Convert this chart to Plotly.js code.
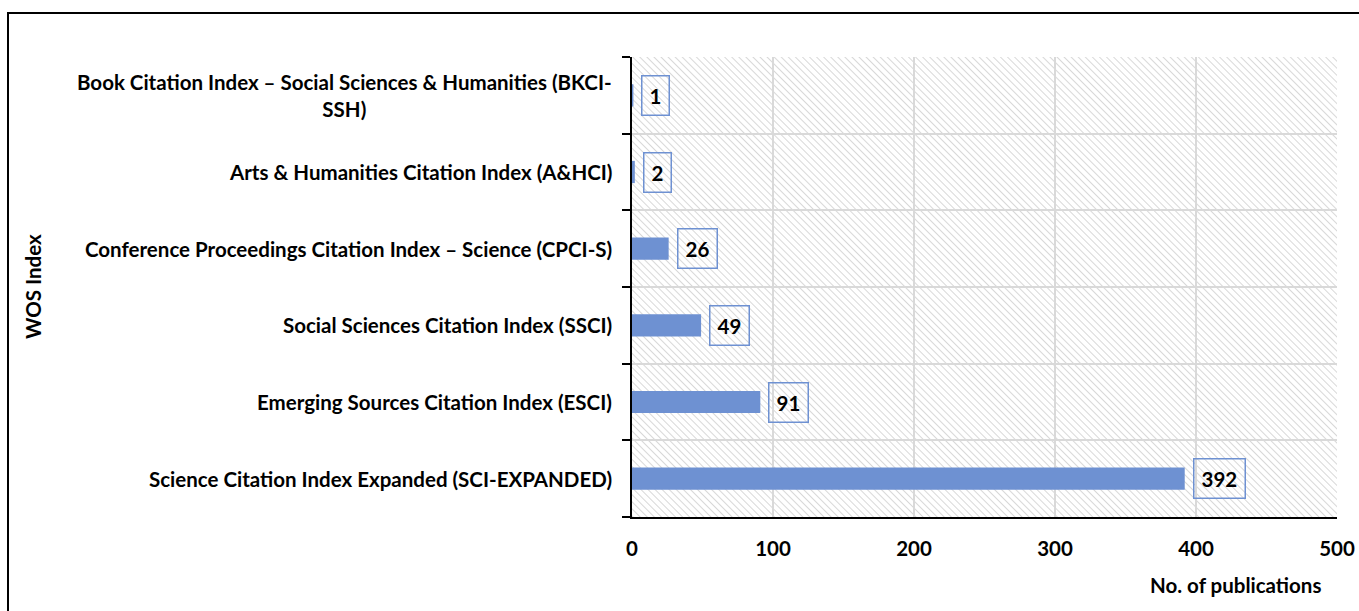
<!DOCTYPE html>
<html>
<head>
<meta charset="utf-8">
<script src="https://cdn.plot.ly/plotly-3.0.1.min.js"></script>
<style>
  html, body { margin: 0; padding: 0; background: #fff; overflow: hidden; }
  #frame { position: absolute; left: 7px; top: 12px; width: 1400px; height: 700px; border: 2px solid #000; box-sizing: border-box; }
  #chart { position: absolute; left: 0; top: 0; width: 1359px; height: 611px; }
</style>
</head>
<body>
<div id="frame"></div>
<div id="chart"></div>
<script>
// Data
const categories = [
  "Science Citation Index Expanded (SCI-EXPANDED)",
  "Emerging Sources Citation Index (ESCI)",
  "Social Sciences Citation Index (SSCI)",
  "Conference Proceedings Citation Index – Science (CPCI-S)",
  "Arts & Humanities Citation Index (A&HCI)",
  "Book Citation Index – Social Sciences & Humanities (BKCI-SSH)"
];
const categoryLabels = [
  "Science Citation Index Expanded (SCI-EXPANDED)",
  "Emerging Sources Citation Index (ESCI)",
  "Social Sciences Citation Index (SSCI)",
  "Conference Proceedings Citation Index – Science (CPCI-S)",
  "Arts & Humanities Citation Index (A&HCI)",
  "Book Citation Index – Social Sciences & Humanities (BKCI-<br>SSH)"
];
const publications = [392, 91, 49, 26, 2, 1];
const xTickValues = [0, 100, 200, 300, 400, 500];

const FONT = "Lato, 'Open Sans', 'DejaVu Sans', sans-serif";
const BLUE = "#6e91d2";
const FS = 20.5;

const W = 1359, H = 611;
const margin = {l: 632, r: 22, t: 57, b: 94};
const pw = W - margin.l - margin.r, ph = H - margin.t - margin.b;

// hatch background
const hatchSvg =
  `<svg xmlns="http://www.w3.org/2000/svg" width="${pw}" height="${ph}">` +
  `<defs><pattern id="h" width="5" height="5" patternUnits="userSpaceOnUse" patternTransform="rotate(-45)">` +
  `<rect width="5" height="5" fill="#ffffff"/><line x1="0" y1="0" x2="0" y2="5" stroke="#d4d4d4" stroke-width="1.8"/></pattern></defs>` +
  `<rect width="${pw}" height="${ph}" fill="url(#h)"/></svg>`;
const hatchUri = "data:image/svg+xml;base64," + btoa(hatchSvg);

const trace = {
  type: "bar",
  orientation: "h",
  x: publications,
  y: categories,
  width: 0.29,
  marker: {color: BLUE},
  hoverinfo: "x+y"
};

const annotations = [];
publications.forEach((v, i) => {
  annotations.push({
    x: v, y: categories[i], xref: "x", yref: "y",
    text: String(v), showarrow: false,
    xanchor: "left", yanchor: "middle", xshift: 8,
    font: {family: FONT, size: FS, color: "#000", weight: "bold"},
    bordercolor: BLUE, borderwidth: 1.5, borderpad: 7, bgcolor: "rgba(255,255,255,0)"
  });
  annotations.push({
    x: 0, y: categories[i], xref: "paper", yref: "y",
    text: "<b>" + categoryLabels[i] + "</b>", showarrow: false,
    xanchor: "right", yanchor: "middle", xshift: -18, align: "center",
    font: {family: FONT, size: FS, color: "#000"}
  });
});
annotations.push({
  x: 1, y: 0, xref: "paper", yref: "paper",
  text: "<b>No. of publications</b>", showarrow: false,
  xanchor: "right", yanchor: "middle", yshift: -68, xshift: -14,
  font: {family: FONT, size: FS, color: "#000"}
});
annotations.push({
  x: 0, y: 0.5, xref: "paper", yref: "paper",
  text: "<b>WOS Index</b>", showarrow: false, textangle: -90,
  xanchor: "center", yanchor: "middle", xshift: -(margin.l - 33),
  font: {family: FONT, size: FS, color: "#000"}
});

const layout = {
  width: W, height: H,
  margin: margin,
  paper_bgcolor: "rgba(0,0,0,0)",
  plot_bgcolor: "rgba(0,0,0,0)",
  showlegend: false,
  font: {family: FONT, size: FS, color: "#000"},
  xaxis: {
    range: [0, 500],
    tickvals: xTickValues,
    ticktext: xTickValues.map(v => "<b>" + v + "</b>"),
    showgrid: true, gridcolor: "#d9d9d9", gridwidth: 2,
    showline: true, linecolor: "#000", linewidth: 2,
    ticks: "", ticklabelstandoff: 12,
    zeroline: false, fixedrange: true,
    tickfont: {family: FONT, size: FS, color: "#000"}
  },
  yaxis: {
    type: "category",
    categoryorder: "array", categoryarray: categories,
    range: [-0.5, 5.5],
    tickson: "boundaries",
    showticklabels: false,
    ticks: "outside", ticklen: 8, tickwidth: 2, tickcolor: "#000",
    showgrid: true, gridcolor: "#d9d9d9", gridwidth: 2,
    showline: true, linecolor: "#000", linewidth: 2,
    zeroline: false, fixedrange: true
  },
  images: [{
    source: hatchUri, xref: "paper", yref: "paper",
    x: 0, y: 1, sizex: 1, sizey: 1, sizing: "stretch",
    xanchor: "left", yanchor: "top", layer: "below"
  }],
  annotations: annotations
};

Plotly.newPlot("chart", [trace], layout, {displayModeBar: false, staticPlot: true});
</script>
</body>
</html>
